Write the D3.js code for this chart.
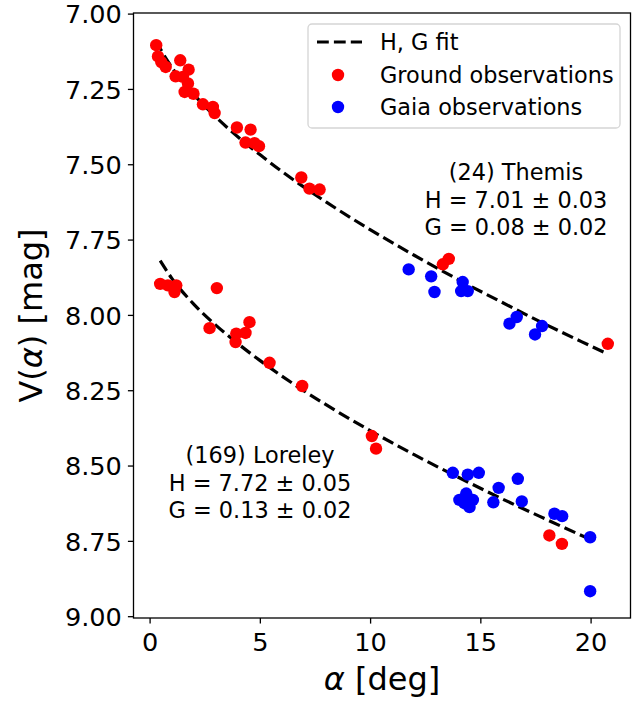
<!DOCTYPE html>
<html>
<head>
<meta charset="utf-8">
<script src="https://cdn.jsdelivr.net/npm/d3@7"></script>
<style>
  body { margin: 0; background: #fff; }
  text { font-family: "DejaVu Sans", sans-serif; }
</style>
</head>
<body>
<div id="phase"></div>
<script>
// phase curves of (24) Themis and (169) Loreley, ground + Gaia photometry

var themisGround = [
  [0.30, 7.105], [0.38, 7.142], [0.53, 7.161], [0.73, 7.177], [1.39, 7.155],
  [1.77, 7.186], [1.18, 7.208], [1.51, 7.210], [1.74, 7.232], [1.59, 7.260],
  [1.99, 7.266], [2.42, 7.301], [2.87, 7.310], [2.95, 7.330], [3.96, 7.378],
  [4.58, 7.385], [4.35, 7.428], [4.76, 7.430], [4.96, 7.440], [6.88, 7.544],
  [7.25, 7.581], [7.71, 7.584], [13.30, 7.832], [13.57, 7.814], [20.78, 8.096]
];
var themisGaia = [
  [11.75, 7.849], [12.77, 7.872], [12.92, 7.924], [14.20, 7.891], [14.13, 7.921],
  [14.43, 7.921], [16.65, 8.007], [16.32, 8.029], [17.80, 8.037], [17.48, 8.065]
];
var loreleyGround = [
  [0.48, 7.897], [0.83, 7.902], [1.21, 7.902], [1.13, 7.924], [3.05, 7.911],
  [2.72, 8.044], [3.93, 8.062], [4.35, 8.060], [4.53, 8.024], [3.90, 8.090],
  [5.44, 8.159], [6.92, 8.236], [10.08, 8.402], [10.27, 8.444],
  [18.13, 8.732], [18.70, 8.760]
];
var loreleyGaia = [
  [13.75, 8.524], [14.43, 8.530], [14.93, 8.524], [16.70, 8.544], [15.83, 8.574],
  [14.36, 8.593], [14.05, 8.614], [14.66, 8.614], [14.28, 8.625], [14.51, 8.638],
  [15.59, 8.622], [16.88, 8.619], [18.36, 8.660], [18.71, 8.668],
  [19.98, 8.738], [19.98, 8.917]
];

// H, G fit curves
var themisFit = [
  [0.3, 7.089], [0.5, 7.118], [1, 7.177], [2, 7.268], [3, 7.343], [4, 7.409],
  [5, 7.468], [6, 7.524], [7, 7.576], [8, 7.625], [10, 7.717], [12, 7.802],
  [14, 7.883], [16, 7.959], [18, 8.033], [20, 8.103], [20.78, 8.130]
];
var loreleyFit = [
  [0.48, 7.820], [1, 7.878], [2, 7.964], [3, 8.034], [4, 8.095], [5, 8.151],
  [6, 8.203], [7, 8.252], [8, 8.298], [10, 8.384], [12, 8.464], [14, 8.539],
  [16, 8.611], [18, 8.679], [19.98, 8.745]
];

var xTicks = [0, 5, 10, 15, 20];
var yTicks = [7.00, 7.25, 7.50, 7.75, 8.00, 8.25, 8.50, 8.75, 9.00];
var legendLabels = ["H, G fit", "Ground observations", "Gaia observations"];
var themisText = ["(24) Themis", "H = 7.01 \u00b1 0.03", "G = 0.08 \u00b1 0.02"];
var loreleyText = ["(169) Loreley", "H = 7.72 \u00b1 0.05", "G = 0.13 \u00b1 0.02"];

var W = 639, H = 702;
var margin = {top: 13, right: 8.5, bottom: 84, left: 133.5},
    width = W - margin.left - margin.right,
    height = H - margin.top - margin.bottom;

var svg = d3.select("#phase")
  .append("svg")
    .attr("width", W)
    .attr("height", H)
  .append("g")
    .attr("transform", "translate(" + margin.left + "," + margin.top + ")");

var x = d3.scaleLinear()
    .domain([-0.73, 21.81])
    .range([0, width]);

var y = d3.scaleLinear()
    .domain([6.998, 9.006])
    .range([0, height]);

// axes
var xAxis = svg.append("g")
    .attr("transform", "translate(0," + height + ")")
    .call(d3.axisBottom(x).tickValues(xTicks).tickFormat(d3.format("d")).tickSizeOuter(0).tickSize(5.6).tickPadding(6));
var yAxis = svg.append("g")
    .call(d3.axisLeft(y).tickValues(yTicks).tickFormat(d3.format(".2f")).tickSizeOuter(0).tickSize(5.6).tickPadding(6));

[xAxis, yAxis].forEach(function(a) {
  a.select(".domain").remove();
  a.selectAll("line").attr("stroke", "#000").attr("stroke-width", 1.3);
  a.selectAll("text")
    .attr("fill", "#000")
    .style("font-size", "25.6px")
    .style("font-family", "DejaVu Sans");
});
yAxis.selectAll("text").attr("dy", "0.36em");
xAxis.selectAll("text").attr("dy", "0.85em");

// frame
svg.append("rect")
    .attr("width", width)
    .attr("height", height)
    .attr("fill", "none")
    .attr("stroke", "#000")
    .attr("stroke-width", 1.3);

var line = d3.line()
    .x(function(d) { return x(d[0]); })
    .y(function(d) { return y(d[1]); })
    .curve(d3.curveMonotoneX);

[themisFit, loreleyFit].forEach(function(fit) {
  svg.append("path")
      .datum(fit)
      .attr("d", line)
      .attr("fill", "none")
      .attr("stroke", "#000")
      .attr("stroke-width", 3.2)
      .attr("stroke-dasharray", "11.8,5.1");
});

function dots(data, color) {
  svg.append("g")
    .selectAll("circle")
    .data(data)
    .enter()
    .append("circle")
      .attr("cx", function(d) { return x(d[0]); })
      .attr("cy", function(d) { return y(d[1]); })
      .attr("r", 6.2)
      .attr("fill", color);
}
dots(themisGround, "#ff0000");
dots(loreleyGround, "#ff0000");
dots(themisGaia, "#0000ff");
dots(loreleyGaia, "#0000ff");

// annotations
function note(lines, cx, y0) {
  svg.append("text")
    .attr("text-anchor", "middle")
    .style("font-size", "22.4px")
    .selectAll("tspan")
    .data(lines)
    .enter()
    .append("tspan")
      .attr("x", cx)
      .attr("y", function(d, i) { return y0 + i * 27.5; })
      .text(function(d) { return d; });
}
note(themisText, 516 - margin.left, 180 - margin.top);
note(loreleyText, 260 - margin.left, 463 - margin.top);

// legend
var lg = svg.append("g")
    .attr("transform", "translate(" + (308 - margin.left) + "," + (24 - margin.top) + ")");
lg.append("rect")
    .attr("width", 312)
    .attr("height", 104)
    .attr("rx", 4)
    .attr("fill", "#fff")
    .attr("fill-opacity", 0.8)
    .attr("stroke", "#d5d5d5")
    .attr("stroke-width", 1.3);
lg.append("line")
    .attr("x1", 9).attr("x2", 54)
    .attr("y1", 18).attr("y2", 18)
    .attr("stroke", "#000")
    .attr("stroke-width", 3.2)
    .attr("stroke-dasharray", "11.8,5.1");
lg.append("circle").attr("cx", 30).attr("cy", 51).attr("r", 6.2).attr("fill", "#ff0000");
lg.append("circle").attr("cx", 30).attr("cy", 83).attr("r", 6.2).attr("fill", "#0000ff");
lg.selectAll("text.lab")
    .data(legendLabels)
    .enter()
    .append("text")
      .attr("class", "lab")
      .attr("x", 72)
      .attr("y", function(d, i) { return 18 + i * 32.5; })
      .attr("dy", "0.36em")
      .style("font-size", "22.4px")
      .text(function(d) { return d; });

// axis titles
svg.append("text")
    .attr("x", width / 2)
    .attr("y", 690 - margin.top)
    .attr("text-anchor", "middle")
    .style("font-size", "32px")
    .html('<tspan font-style="italic">\u03b1</tspan> [deg]');

svg.append("text")
    .attr("transform", "translate(" + (42 - margin.left) + "," + (height / 2) + ")rotate(-90)")
    .attr("text-anchor", "middle")
    .style("font-size", "32px")
    .html('V(<tspan font-style="italic">\u03b1</tspan>) [mag]');
</script>
</body>
</html>
